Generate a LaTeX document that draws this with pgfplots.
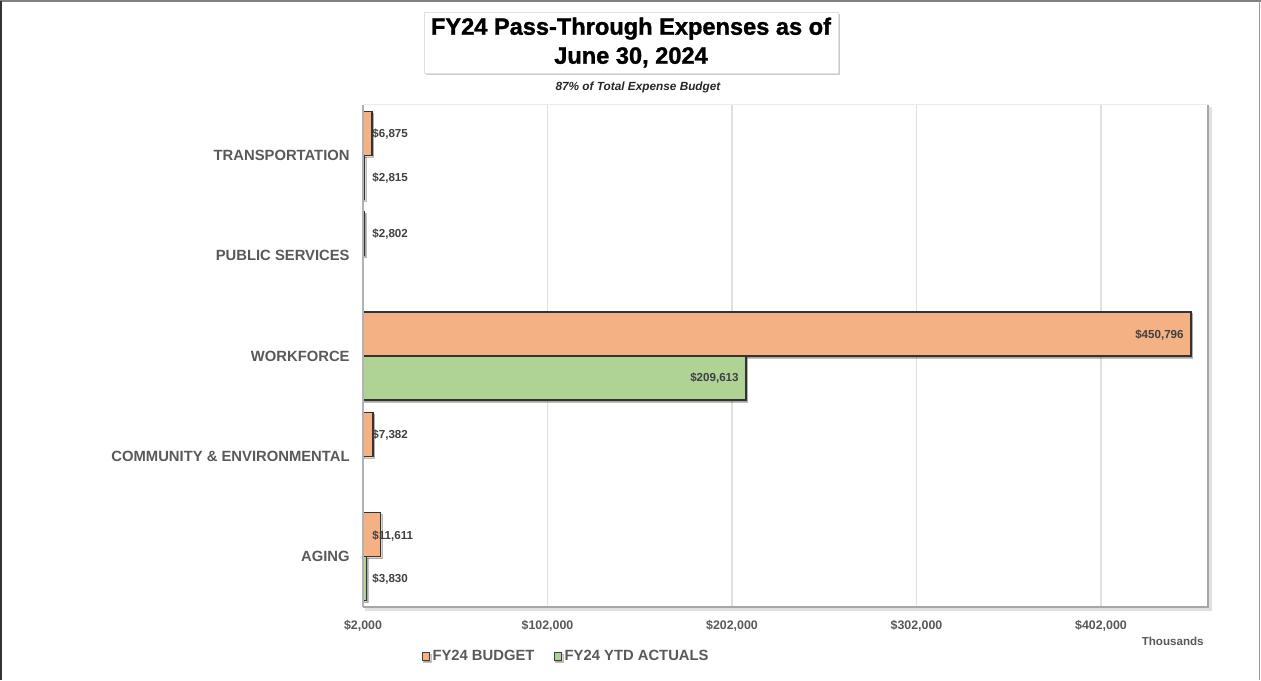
\documentclass[border=0pt]{standalone}
\usepackage{fontspec}
\setmainfont{Liberation Sans}
\newfontface\titlefont[FakeBold=1.3]{Liberation Sans Bold}
\usepackage{pgfplots}
\pgfplotsset{compat=1.18}
\usetikzlibrary{shadows}
\definecolor{budgetc}{HTML}{F4B183}
\definecolor{actualc}{HTML}{AFD395}
\definecolor{labgray}{HTML}{595959}
\definecolor{valgray}{HTML}{404040}
\definecolor{gridc}{HTML}{E0E0E0}
\pgfplotsset{
  vallabel/.style={
    nodes near coords={\$\pgfmathprintnumber[fixed,precision=0,1000 sep={,}]{\pgfplotspointmeta}},
    every node near coord/.append style={font=\fontsize{5.8}{7}\selectfont\bfseries, text=valgray, inner sep=0pt}
  }
}
\begin{document}
\begin{tikzpicture}
\path[use as bounding box] (0,0) rectangle (630.5pt,340pt);
\begin{axis}[
  scale only axis, width=422.5pt, height=251pt,
  at={(181.5pt,36.5pt)}, anchor=south west,
  xmin=2000, xmax=460000, ymin=-0.5, ymax=4.5,
  xtick={2000,102000,202000,302000,402000},
  xticklabels={{\$2,000},{\$102,000},{\$202,000},{\$302,000},{\$402,000}},
  scaled x ticks=false,
  ytick={0,1,2,3,4},
  yticklabels={AGING,{COMMUNITY \& ENVIRONMENTAL},WORKFORCE,{PUBLIC SERVICES},TRANSPORTATION},
  xmajorgrids, grid style={draw=gridc, line width=0.55pt},
  major tick length=0pt,
  axis line style={draw=none},
  /pgf/number format/assume math mode=true,
  xticklabel style={font=\fontsize{6.2}{7}\selectfont\bfseries, text=labgray, inner sep=0pt, anchor=base, yshift=-11.3pt},
  yticklabel style={font=\fontsize{7.4}{8.5}\selectfont\bfseries, text=labgray, inner sep=0pt, anchor=east, xshift=-6.5pt},
  legend style={draw=none, fill=none, at={(axis description cs:0.069,-0.0996)}, anchor=west, legend columns=2,
    font=\fontsize{7.4}{8.5}\selectfont\bfseries, text=labgray, inner sep=0pt, nodes={inner sep=1.2pt},
    /tikz/every even column/.append style={column sep=8.5pt}},
]
\addplot[xbar, bar width=22pt, bar shift=11pt, fill=budgetc, draw=black!80, line width=0.6pt,
  drop shadow={shadow xshift=0.8pt, shadow yshift=-1pt, opacity=0.3},
  legend image code/.code={\draw[fill=budgetc, draw=black!75, line width=0.5pt] (-0.5pt,-1.5pt) rectangle (3.2pt,2.2pt);}]
  coordinates {(11611,0) (7382,1) (450796,2) (2802,3) (6875,4)};
\addlegendentry{FY24 BUDGET}
\addplot[xbar, bar width=22pt, bar shift=-11pt, fill=actualc, draw=black!80, line width=0.6pt,
  drop shadow={shadow xshift=0.8pt, shadow yshift=-1pt, opacity=0.3},
  legend image code/.code={\draw[fill=actualc, draw=black!75, line width=0.5pt] (-0.5pt,-1.5pt) rectangle (3.2pt,2.2pt);}]
  coordinates {(3830,0) (209613,2) (2815,4)};
\addlegendentry{FY24 YTD ACTUALS}
% value labels, large bars (inside end)
\addplot[forget plot, xbar, bar width=22pt, bar shift=11pt, draw=none, fill=none, point meta=x, vallabel,
  every node near coord/.append style={anchor=east, xshift=-3.5pt, yshift=10.6pt}]
  coordinates {(450796,2)};
\addplot[forget plot, xbar, bar width=22pt, bar shift=-11pt, draw=none, fill=none, point meta=x, vallabel,
  every node near coord/.append style={anchor=east, xshift=-3.5pt, yshift=-11.2pt}]
  coordinates {(209613,2)};
% value labels, small bars (inside base)
\addplot[forget plot, xbar, bar width=22pt, bar shift=11pt, draw=none, fill=none, point meta=explicit, vallabel,
  every node near coord/.append style={anchor=west, xshift=4.5pt, yshift=10.6pt}]
  coordinates {(2000,0) [11611] (2000,1) [7382] (2000,3) [2802] (2000,4) [6875]};
\addplot[forget plot, xbar, bar width=22pt, bar shift=-11pt, draw=none, fill=none, point meta=explicit, vallabel,
  every node near coord/.append style={anchor=west, xshift=4.5pt, yshift=-11.2pt}]
  coordinates {(2000,0) [3830] (2000,4) [2815]};
\end{axis}
% plot area frame
\draw[black!8, line width=0.5pt] (181.5pt,287.5pt) -- (604pt,287.5pt);
\draw[black!30, line width=0.6pt] (181.5pt,36.5pt) -- (181.5pt,287.5pt);
\draw[black!12, line width=1.2pt] (182.5pt,35.3pt) -- (605.2pt,35.3pt) -- (605.2pt,286.5pt);
\draw[black!35, line width=0.75pt] (181.5pt,36.5pt) -- (604pt,36.5pt) -- (604pt,287.5pt);
% title
\node[fill=white, draw=black!12, line width=0.4pt, drop shadow={shadow xshift=1pt, shadow yshift=-1.1pt, opacity=0.4},
  minimum width=207pt, minimum height=30.5pt, inner sep=0pt, align=center,
  font=\titlefont\fontsize{11.8}{14.5}\selectfont] at (315.5pt,318.75pt) {FY24 Pass-Through Expenses as of\\June 30, 2024};
\node[font=\fontsize{5.9}{7}\selectfont\bfseries\itshape, text=black!85, inner sep=0pt] at (319pt,296.5pt) {87\% of Total Expense Budget};
\node[anchor=east, inner sep=0pt, font=\fontsize{5.8}{7}\selectfont\bfseries, text=labgray] at (602pt,19.5pt) {Thousands};
% outer frame
\draw[black!50, line width=1pt] (0,339.3pt) -- (630.5pt,339.3pt);
\draw[black!80, line width=1pt] (0.6pt,0) -- (0.6pt,339.5pt);
\draw[black!40, line width=0.6pt] (629.8pt,0) -- (629.8pt,339.5pt);
\end{tikzpicture}
\end{document}
